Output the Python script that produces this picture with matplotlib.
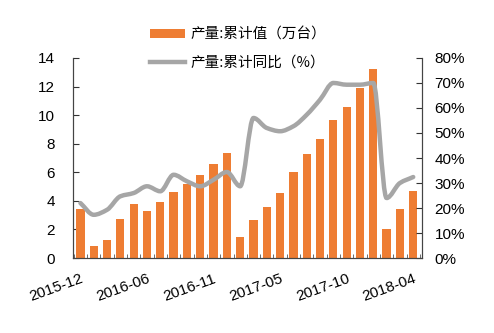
import matplotlib
matplotlib.use("Agg")
import matplotlib.pyplot as plt
from matplotlib.path import Path
from matplotlib.patches import PathPatch
from matplotlib.lines import Line2D
import numpy as np

plt.rcParams['font.family'] = ['Liberation Sans', 'Noto Sans CJK SC', 'DejaVu Sans']

months = ["2015-12", "2016-02", "2016-03", "2016-04", "2016-05", "2016-06",
          "2016-07", "2016-08", "2016-09", "2016-10", "2016-11", "2016-12",
          "2017-02", "2017-03", "2017-04", "2017-05", "2017-06", "2017-07",
          "2017-08", "2017-09", "2017-10", "2017-11", "2017-12",
          "2018-02", "2018-03", "2018-04"]
cum_value = [3.4, 0.85, 1.25, 2.75, 3.75, 3.3, 3.9, 4.65, 5.2, 5.8, 6.55, 7.35,
             1.45, 2.65, 3.6, 4.55, 6.0, 7.25, 8.3, 9.65, 10.55, 11.9, 13.2,
             2.0, 3.4, 4.7]
cum_yoy = [22.0, 17.3, 19.3, 24.7, 26.0, 28.7, 26.7, 33.3, 30.7, 28.7, 31.3, 34.4,
           28.7, 56.0, 52.0, 50.7, 52.7, 57.3, 63.3, 70.0, 69.3, 69.3, 70.0,
           24.0, 30.0, 32.4]
tick_labels = ["2015-12", "2016-06", "2016-11", "2017-05", "2017-10", "2018-04"]

BAR_COLOR = '#EE7D33'
LINE_COLOR = '#A6A6A6'

fig = plt.figure(figsize=(4.94, 3.33), dpi=100)
ax = fig.add_axes([0.148, 0.225, 0.706, 0.601])
x = np.arange(len(months))
bars = ax.bar(x, cum_value, width=0.62, color=BAR_COLOR, zorder=2)
ax.set_ylim(0, 14)
ax.set_yticks(np.arange(0, 15, 2))
ax.set_xlim(-0.55, len(months) - 0.35)

ax2 = ax.twinx()
ax2.set_position(ax.get_position())
ax2.set_ylim(0, 80)
ax2.set_yticks(np.arange(0, 81, 10))
ax2.set_yticklabels([f"{v}%" for v in range(0, 81, 10)])

# smoothed line through the data points (monotone cubic Bezier, no overshoot)
yv = np.asarray(cum_yoy, dtype=float)
n = len(yv)
d = np.diff(yv)
m = np.zeros(n)
m[0], m[-1] = d[0], d[-1]
for k in range(1, n - 1):
    if d[k - 1] * d[k] > 0:
        m[k] = 2.0 / (1.0 / d[k - 1] + 1.0 / d[k])
verts = [(x[0], yv[0])]
codes = [Path.MOVETO]
for i in range(n - 1):
    verts += [(x[i] + 1 / 3, yv[i] + m[i] / 3),
              (x[i + 1] - 1 / 3, yv[i + 1] - m[i + 1] / 3),
              (x[i + 1], yv[i + 1])]
    codes += [Path.CURVE4] * 3
patch = PathPatch(Path(verts, codes), facecolor='none', edgecolor=LINE_COLOR,
                  lw=3.2, capstyle='round', joinstyle='round', zorder=3)
ax2.add_patch(patch)
line = Line2D([], [], color=LINE_COLOR, lw=3.2)

idx = [months.index(t) for t in tick_labels]
ax.set_xticks(idx)
ax.set_xticklabels(tick_labels, rotation=20, ha='right', rotation_mode='anchor')
ax.set_xticks(np.arange(-0.5, len(months), 1), minor=True)
ax.tick_params(axis='x', which='major', length=0, labelsize=11, pad=10)
ax.tick_params(axis='x', which='minor', length=3, direction='in', color='#555555')
ax.tick_params(axis='y', labelsize=11, length=4, direction='in', pad=13, color='#333333')
ax2.tick_params(axis='y', labelsize=11, length=4, direction='in', pad=9, color='#333333')

for a in (ax, ax2):
    a.spines['top'].set_visible(False)
    for s in ('left', 'right', 'bottom'):
        a.spines[s].set_color('#444444')
        a.spines[s].set_linewidth(0.8)

fig.legend([bars, line], ['产量:累计值（万台）', '产量:累计同比（%）'],
           loc='upper left', bbox_to_anchor=(150 / 494, 1 - 28 / 333), frameon=False,
           handlelength=2.4, handleheight=0.6, labelspacing=0.95,
           handletextpad=0.35, borderpad=0, borderaxespad=0,
           prop={'family': ['Noto Sans CJK SC'], 'size': 10.5})

fig.savefig("out.png", dpi=100, facecolor='white')
